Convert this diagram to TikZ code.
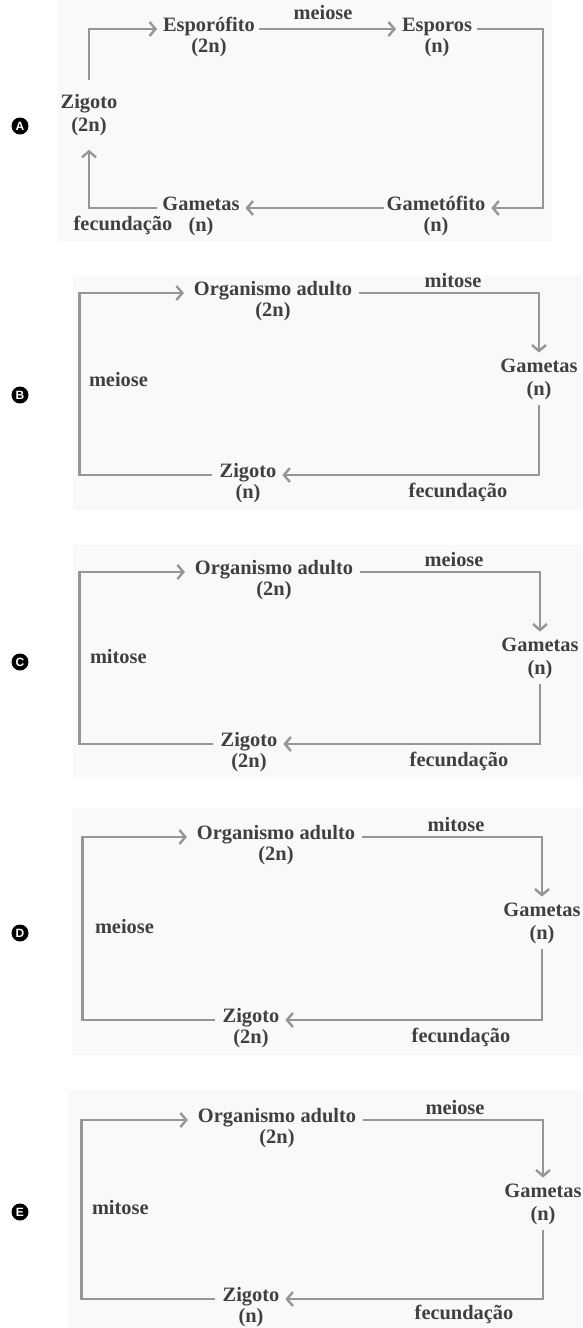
\documentclass[tikz,border=0pt]{standalone}
\usepackage{fontspec}
\setmainfont{Liberation Serif}
\setsansfont{Liberation Sans}
\usetikzlibrary{positioning,arrows.meta}
\definecolor{txtgray}{HTML}{404040}
\definecolor{linegray}{HTML}{969696}
\definecolor{panelbg}{HTML}{F9F9F9}

\begin{document}
\begin{tikzpicture}
      [x=1pt,y=-1pt,
      every node/.style={text=txtgray,font=\fontsize{20.4}{23}\selectfont\bfseries,inner sep=2pt,outer sep=0pt},
      word/.style={anchor=mid,text depth=4.5pt},
      pair/.style={align=center},
      ploidy/.style={inner sep=0pt,label distance=1pt},
      flow/.style={draw=linegray,line width=2.4pt,-{Straight Barb[length=6pt,width=14pt]},shorten >=4pt},
      letter/.style={circle,fill=black,text=white,inner sep=0pt,minimum size=17pt,font=\sffamily\bfseries\fontsize{12}{12}\selectfont},
      panel/.style={fill=panelbg}]
     \useasboundingbox (0,0) rectangle (582,1328);
     % A
     \fill[panel] (58,0) rectangle (552,242);
     \node[letter] (lA) at (20,126) {A};
     \node[pair] (zigA) at (89,115) {Zigoto\\(2n)};
     \node[word,label={[ploidy]below:(2n)}] (espfA) at (209,29) {Esporófito};
     \node[word,label={[ploidy]below:(n)}] (espA) at (437,29) {Esporos};
     \node[word,label={[ploidy]below:(n)}] (gmfA) at (436,208) {Gametófito};
     \node[word,label={[ploidy]below:(n)}] (gamA) at (201,208) {Gametas};
     \node[word] (meiA) at (323,17) {meiose};
     \node[word] (fecA) at (123,228) {fecundação};
     \draw[flow,shorten <=12pt] (zigA.north) |- (espfA.mid west);
     \draw[flow,shorten <=2pt] (espfA.mid east) -- (espA.mid west);
     \draw[flow,shorten <=3pt] (espA.mid east) -- ++(69,0) |- (gmfA.mid east);
     \draw[flow,shorten <=1pt] (gmfA.mid west) -- (gamA.mid east);
     \draw[flow,shorten <=3pt,shorten >=12pt] (gamA.mid west) -| (zigA.south);
     % B
     \fill[panel] (73,275) rectangle (582,510);
     \node[letter] (lB) at (20,395) {B};
     \node[word,label={[ploidy]below:(2n)}] (orgB) at (273,293) {Organismo adulto};
     \node[word] (mitB) at (453,285) {mitose};
     \node[pair] (gamB) at (539,379) {Gametas\\(n)};
     \node[word,label={[ploidy]below:(n)}] (zigB) at (248,475) {Zigoto};
     \node[word] (fecB) at (458,495) {fecundação};
     \node[word,anchor=mid west] (meiB) at (87,384) {meiose};
     \draw[flow,shorten <=5pt] (orgB.mid east) -| (gamB.north);
     \draw[flow,shorten <=4pt] (gamB.south) |- (zigB.mid east);
     \draw[flow,shorten <=6pt,shorten >=8pt] (zigB.mid west) -- ++(-138,0) |- (orgB.mid west);
     % C
     \fill[panel] (73,545) rectangle (582,777);
     \node[letter] (lC) at (20,662) {C};
     \node[word,label={[ploidy]below:(2n)}] (orgC) at (274,572) {Organismo adulto};
     \node[word] (meiC) at (454,564) {meiose};
     \node[pair] (gamC) at (540,658) {Gametas\\(n)};
     \node[word,label={[ploidy]below:(2n)}] (zigC) at (249,744) {Zigoto};
     \node[word] (fecC) at (459,764) {fecundação};
     \node[word,anchor=mid west] (mitC) at (88,661) {mitose};
     \draw[flow,shorten <=5pt] (orgC.mid east) -| (gamC.north);
     \draw[flow,shorten <=4pt] (gamC.south) |- (zigC.mid east);
     \draw[flow,shorten <=6pt,shorten >=8pt] (zigC.mid west) -- ++(-139,0) |- (orgC.mid west);
     % D
     \fill[panel] (72,808) rectangle (582,1055);
     \node[letter] (lD) at (20,933) {D};
     \node[word,label={[ploidy]below:(2n)}] (orgD) at (276,837) {Organismo adulto};
     \node[word] (mitD) at (456,829) {mitose};
     \node[pair] (gamD) at (542,923) {Gametas\\(n)};
     \node[word,label={[ploidy]below:(2n)}] (zigD) at (251,1020) {Zigoto};
     \node[word] (fecD) at (461,1040) {fecundação};
     \node[word,anchor=mid west] (meiD) at (93,931) {meiose};
     \draw[flow,shorten <=5pt] (orgD.mid east) -| (gamD.north);
     \draw[flow,shorten <=4pt] (gamD.south) |- (zigD.mid east);
     \draw[flow,shorten <=6pt,shorten >=8pt] (zigD.mid west) -- ++(-138,0) |- (orgD.mid west);
     % E
     \fill[panel] (68,1090) rectangle (582,1328);
     \node[letter] (lE) at (20,1212) {E};
     \node[word,label={[ploidy]below:(2n)}] (orgE) at (277,1120) {Organismo adulto};
     \node[word] (meiE) at (455,1112) {meiose};
     \node[pair] (gamE) at (543,1204) {Gametas\\(n)};
     \node[word,label={[ploidy]below:(n)}] (zigE) at (251,1299) {Zigoto};
     \node[word] (fecE) at (464,1317) {fecundação};
     \node[word,anchor=mid west] (mitE) at (90,1212) {mitose};
     \draw[flow,shorten <=5pt] (orgE.mid east) -| (gamE.north);
     \draw[flow,shorten <=4pt] (gamE.south) |- (zigE.mid east);
     \draw[flow,shorten <=6pt,shorten >=8pt] (zigE.mid west) -- ++(-139,0) |- (orgE.mid west);
\end{tikzpicture}
\end{document}
